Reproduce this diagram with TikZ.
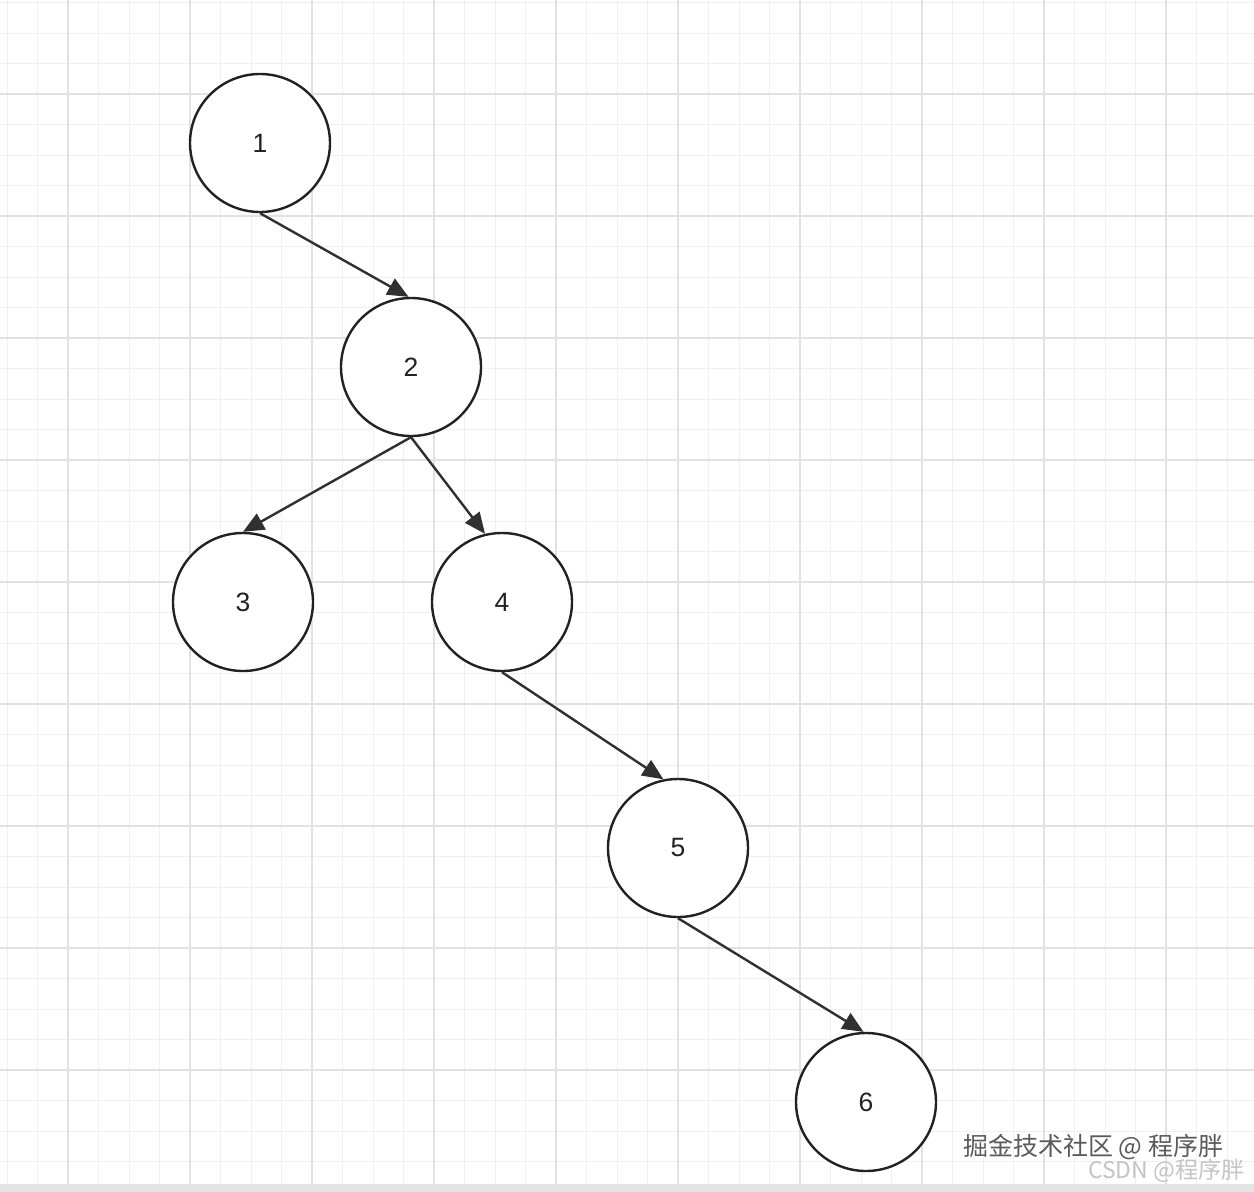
\documentclass[tikz,border=0pt]{standalone}
\usepackage{fontspec}
\setmainfont{Liberation Sans}
\newfontfamily\cjkfont{Noto Sans CJK SC}
\usetikzlibrary{arrows.meta,shapes.geometric}
\definecolor{minorgrid}{HTML}{F0F0F0}
\definecolor{majorgrid}{HTML}{E2E2E2}
\definecolor{ink}{HTML}{222222}
\definecolor{edgeink}{HTML}{303030}
\definecolor{stripgray}{HTML}{E4E4E4}
\definecolor{wmdark}{HTML}{5A5A5A}
\definecolor{wmlight}{HTML}{C4C4C4}
\tikzset{
  treenode/.style={ellipse, draw=ink, line width=2.4pt, fill=white,
    minimum width=140pt, minimum height=138pt, inner sep=0pt,
    font=\fontsize{26.5}{30}\selectfont, text=ink},
  treeedge/.style={draw=edgeink, line width=2.4pt,
    -{Triangle[length=21pt,width=18pt]}},
  minorline/.style={draw=minorgrid, line width=1pt},
  majorline/.style={draw=majorgrid, line width=1.6pt},
}
\begin{document}
\begin{tikzpicture}[x=1pt,y=-1pt]
\useasboundingbox (0,0) rectangle (1254,1192);
\fill[white] (0,0) rectangle (1254,1192);
\begin{scope}
\clip (0,0) rectangle (1254,1192);
\foreach \i in {0,...,41} {
  \draw[minorline] ({7+30.5*\i},0) -- ({7+30.5*\i},1192);
}
\foreach \i in {0,...,39} {
  \draw[minorline] (0,{2.5+30.5*\i}) -- (1254,{2.5+30.5*\i});
}
\foreach \i in {0,...,9} {
  \draw[majorline] ({68+122*\i},0) -- ({68+122*\i},1192);
}
\foreach \i in {0,...,8} {
  \draw[majorline] (0,{94+122*\i}) -- (1254,{94+122*\i});
}
\end{scope}
\fill[stripgray] (0,1184) rectangle (1254,1192);

\node[treenode] (n1) at (260,143) {1};
\node[treenode] (n2) at (411,367) {2};
\node[treenode] (n3) at (243,602) {3};
\node[treenode] (n4) at (502,602) {4};
\node[treenode] (n5) at (678,848) {5};
\node[treenode] (n6) at (866,1102) {6};

\draw[treeedge] (n1.south) -- (n2.92);
\draw[treeedge] (n2.south) -- (n3.north);
\draw[treeedge] (n2.south) -- (n4.104);
\draw[treeedge] (n4.south) -- (n5.102);
\draw[treeedge] (n5.south) -- (n6.92);

\node[anchor=west, inner sep=0pt, text=white, font=\cjkfont\fontsize{25}{28}\selectfont] (wm1s) at (964.5,1148.5) {掘金技术社区 @ 程序胖};
\node[anchor=west, inner sep=0pt, text=wmdark, font=\cjkfont\fontsize{25}{28}\selectfont] (wm1) at (963,1147) {掘金技术社区 @ 程序胖};
\node[anchor=west, inner sep=0pt, text=wmlight, font=\cjkfont\fontsize{23}{26}\selectfont] (wm2) at (1088,1171) {CSDN @程序胖};
\end{tikzpicture}
\end{document}
